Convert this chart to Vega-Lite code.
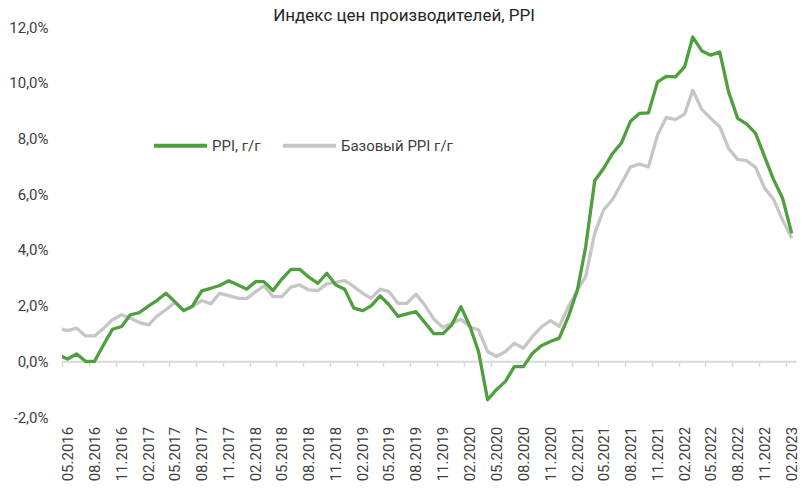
{
  "$schema": "https://vega.github.io/schema/vega-lite/v6.json",
  "width": 734,
  "height": 390,
  "autosize": {"type": "none"},
  "padding": {"left": 62, "top": 27, "right": 11, "bottom": 71},
  "title": {"text": "Индекс цен производителей, PPI", "fontSize": 17, "fontWeight": "normal", "font": "Roboto", "color": "#262626", "anchor": "middle", "dx": -25, "offset": -5},
  "config": {"view": {"stroke": null}, "font": "Roboto"},
  "data": {"values": [
    {"d": "2016-04-01", "ppi": 0.22, "core": 1.18},
    {"d": "2016-05-01", "ppi": 0.08, "core": 1.10},
    {"d": "2016-06-01", "ppi": 0.26, "core": 1.19},
    {"d": "2016-07-01", "ppi": 0.0, "core": 0.91},
    {"d": "2016-08-01", "ppi": 0.0, "core": 0.91},
    {"d": "2016-09-01", "ppi": 0.6, "core": 1.19},
    {"d": "2016-10-01", "ppi": 1.15, "core": 1.49},
    {"d": "2016-11-01", "ppi": 1.25, "core": 1.67},
    {"d": "2016-12-01", "ppi": 1.67, "core": 1.55},
    {"d": "2017-01-01", "ppi": 1.75, "core": 1.39},
    {"d": "2017-02-01", "ppi": 1.99, "core": 1.31},
    {"d": "2017-03-01", "ppi": 2.18, "core": 1.61},
    {"d": "2017-04-01", "ppi": 2.44, "core": 1.85},
    {"d": "2017-05-01", "ppi": 2.14, "core": 2.11},
    {"d": "2017-06-01", "ppi": 1.82, "core": 1.82},
    {"d": "2017-07-01", "ppi": 1.99, "core": 1.96},
    {"d": "2017-08-01", "ppi": 2.53, "core": 2.18},
    {"d": "2017-09-01", "ppi": 2.62, "core": 2.06},
    {"d": "2017-10-01", "ppi": 2.72, "core": 2.44},
    {"d": "2017-11-01", "ppi": 2.89, "core": 2.36},
    {"d": "2017-12-01", "ppi": 2.75, "core": 2.27},
    {"d": "2018-01-01", "ppi": 2.59, "core": 2.25},
    {"d": "2018-02-01", "ppi": 2.86, "core": 2.50},
    {"d": "2018-03-01", "ppi": 2.86, "core": 2.71},
    {"d": "2018-04-01", "ppi": 2.54, "core": 2.32},
    {"d": "2018-05-01", "ppi": 2.95, "core": 2.32},
    {"d": "2018-06-01", "ppi": 3.30, "core": 2.66},
    {"d": "2018-07-01", "ppi": 3.30, "core": 2.74},
    {"d": "2018-08-01", "ppi": 3.02, "core": 2.56},
    {"d": "2018-09-01", "ppi": 2.80, "core": 2.54},
    {"d": "2018-10-01", "ppi": 3.16, "core": 2.78},
    {"d": "2018-11-01", "ppi": 2.74, "core": 2.83},
    {"d": "2018-12-01", "ppi": 2.59, "core": 2.90},
    {"d": "2019-01-01", "ppi": 1.91, "core": 2.68},
    {"d": "2019-02-01", "ppi": 1.82, "core": 2.44},
    {"d": "2019-03-01", "ppi": 1.99, "core": 2.26},
    {"d": "2019-04-01", "ppi": 2.35, "core": 2.59},
    {"d": "2019-05-01", "ppi": 2.03, "core": 2.50},
    {"d": "2019-06-01", "ppi": 1.61, "core": 2.08},
    {"d": "2019-07-01", "ppi": 1.70, "core": 2.08},
    {"d": "2019-08-01", "ppi": 1.78, "core": 2.41},
    {"d": "2019-09-01", "ppi": 1.38, "core": 2.0},
    {"d": "2019-10-01", "ppi": 0.99, "core": 1.51},
    {"d": "2019-11-01", "ppi": 0.99, "core": 1.21},
    {"d": "2019-12-01", "ppi": 1.31, "core": 1.37},
    {"d": "2020-01-01", "ppi": 1.96, "core": 1.51},
    {"d": "2020-02-01", "ppi": 1.25, "core": 1.23},
    {"d": "2020-03-01", "ppi": 0.35, "core": 1.13},
    {"d": "2020-04-01", "ppi": -1.38, "core": 0.35},
    {"d": "2020-05-01", "ppi": -1.02, "core": 0.17},
    {"d": "2020-06-01", "ppi": -0.72, "core": 0.35},
    {"d": "2020-07-01", "ppi": -0.19, "core": 0.65},
    {"d": "2020-08-01", "ppi": -0.19, "core": 0.47},
    {"d": "2020-09-01", "ppi": 0.29, "core": 0.89},
    {"d": "2020-10-01", "ppi": 0.56, "core": 1.23},
    {"d": "2020-11-01", "ppi": 0.71, "core": 1.46},
    {"d": "2020-12-01", "ppi": 0.83, "core": 1.25},
    {"d": "2021-01-01", "ppi": 1.6, "core": 1.96},
    {"d": "2021-02-01", "ppi": 2.56, "core": 2.56},
    {"d": "2021-03-01", "ppi": 4.1, "core": 3.04},
    {"d": "2021-04-01", "ppi": 6.48, "core": 4.6},
    {"d": "2021-05-01", "ppi": 6.92, "core": 5.43},
    {"d": "2021-06-01", "ppi": 7.46, "core": 5.81},
    {"d": "2021-07-01", "ppi": 7.84, "core": 6.39},
    {"d": "2021-08-01", "ppi": 8.62, "core": 6.98},
    {"d": "2021-09-01", "ppi": 8.90, "core": 7.08},
    {"d": "2021-10-01", "ppi": 8.92, "core": 6.98},
    {"d": "2021-11-01", "ppi": 10.03, "core": 8.12},
    {"d": "2021-12-01", "ppi": 10.23, "core": 8.75},
    {"d": "2022-01-01", "ppi": 10.21, "core": 8.68},
    {"d": "2022-02-01", "ppi": 10.57, "core": 8.87},
    {"d": "2022-03-01", "ppi": 11.64, "core": 9.73},
    {"d": "2022-04-01", "ppi": 11.14, "core": 9.04},
    {"d": "2022-05-01", "ppi": 10.99, "core": 8.72},
    {"d": "2022-06-01", "ppi": 11.10, "core": 8.42},
    {"d": "2022-07-01", "ppi": 9.67, "core": 7.64},
    {"d": "2022-08-01", "ppi": 8.72, "core": 7.25},
    {"d": "2022-09-01", "ppi": 8.51, "core": 7.20},
    {"d": "2022-10-01", "ppi": 8.18, "core": 6.96},
    {"d": "2022-11-01", "ppi": 7.34, "core": 6.21},
    {"d": "2022-12-01", "ppi": 6.53, "core": 5.82},
    {"d": "2023-01-01", "ppi": 5.85, "core": 5.07},
    {"d": "2023-02-01", "ppi": 4.59, "core": 4.42}
  ]},
  "transform": [{"fold": ["core", "ppi"], "as": ["k", "v"]}],
  "mark": {"type": "line", "strokeWidth": 3.3, "clip": true, "strokeJoin": "round"},
  "encoding": {
    "x": {
      "field": "d", "type": "temporal",
      "scale": {"type": "utc", "domain": [{"year": 2016, "month": 4, "date": 12, "utc": true}, {"year": 2023, "month": 2, "date": 15, "hours": 16, "utc": true}]},
      "axis": {
        "title": null, "orient": "bottom", "offset": -55.7, "grid": false,
        "values": [
          {"year": 2016, "month": 5, "date": 1, "utc": true}, {"year": 2016, "month": 8, "date": 1, "utc": true}, {"year": 2016, "month": 11, "date": 1, "utc": true},
          {"year": 2017, "month": 2, "date": 1, "utc": true}, {"year": 2017, "month": 5, "date": 1, "utc": true}, {"year": 2017, "month": 8, "date": 1, "utc": true}, {"year": 2017, "month": 11, "date": 1, "utc": true},
          {"year": 2018, "month": 2, "date": 1, "utc": true}, {"year": 2018, "month": 5, "date": 1, "utc": true}, {"year": 2018, "month": 8, "date": 1, "utc": true}, {"year": 2018, "month": 11, "date": 1, "utc": true},
          {"year": 2019, "month": 2, "date": 1, "utc": true}, {"year": 2019, "month": 5, "date": 1, "utc": true}, {"year": 2019, "month": 8, "date": 1, "utc": true}, {"year": 2019, "month": 11, "date": 1, "utc": true},
          {"year": 2020, "month": 2, "date": 1, "utc": true}, {"year": 2020, "month": 5, "date": 1, "utc": true}, {"year": 2020, "month": 8, "date": 1, "utc": true}, {"year": 2020, "month": 11, "date": 1, "utc": true},
          {"year": 2021, "month": 2, "date": 1, "utc": true}, {"year": 2021, "month": 5, "date": 1, "utc": true}, {"year": 2021, "month": 8, "date": 1, "utc": true}, {"year": 2021, "month": 11, "date": 1, "utc": true},
          {"year": 2022, "month": 2, "date": 1, "utc": true}, {"year": 2022, "month": 5, "date": 1, "utc": true}, {"year": 2022, "month": 8, "date": 1, "utc": true}, {"year": 2022, "month": 11, "date": 1, "utc": true},
          {"year": 2023, "month": 2, "date": 1, "utc": true}
        ],
        "domain": true, "domainColor": "#d9d9d9", "domainWidth": 2,
        "ticks": true, "tickColor": "#d9d9d9", "tickWidth": 1.5, "tickSize": 5, "tickOffset": -5.6,
        "labelOffset": 5.6, "labelAngle": -90, "labelAlign": "right", "labelBaseline": "middle", "labelPadding": 60,
        "labelExpr": "utcFormat(datum.value, '%m.%Y')", "labelFontSize": 15, "labelColor": "#404040", "labelOverlap": false, "labelFont": "Roboto"
      }
    },
    "y": {
      "field": "v", "type": "quantitative",
      "scale": {"domain": [-2, 12], "nice": false, "zero": false},
      "axis": {
        "title": null, "grid": false, "domain": false, "ticks": false, "labelPadding": 14,
        "values": [-2, 0, 2, 4, 6, 8, 10, 12],
        "labelExpr": "(datum.value < 0 ? '-' : '') + replace(format(abs(datum.value), '.1f'), '.', ',') + '%'",
        "labelFontSize": 15, "labelColor": "#404040", "labelFont": "Roboto"
      }
    },
    "color": {
      "field": "k", "type": "nominal",
      "scale": {"domain": ["ppi", "core"], "range": ["#4e9f3d", "#c6c6c6"]},
      "legend": {
        "orient": "none", "legendX": 90, "legendY": 90, "direction": "horizontal", "title": null,
        "symbolType": "stroke", "symbolSize": 2809, "symbolStrokeWidth": 4,
        "labelFontSize": 15, "labelFont": "Roboto", "labelColor": "#404040", "labelOffset": 3, "columnPadding": 14,
        "labelExpr": "datum.value == 'ppi' ? 'PPI, г/г' : 'Базовый PPI г/г'"
      }
    }
  }
}
